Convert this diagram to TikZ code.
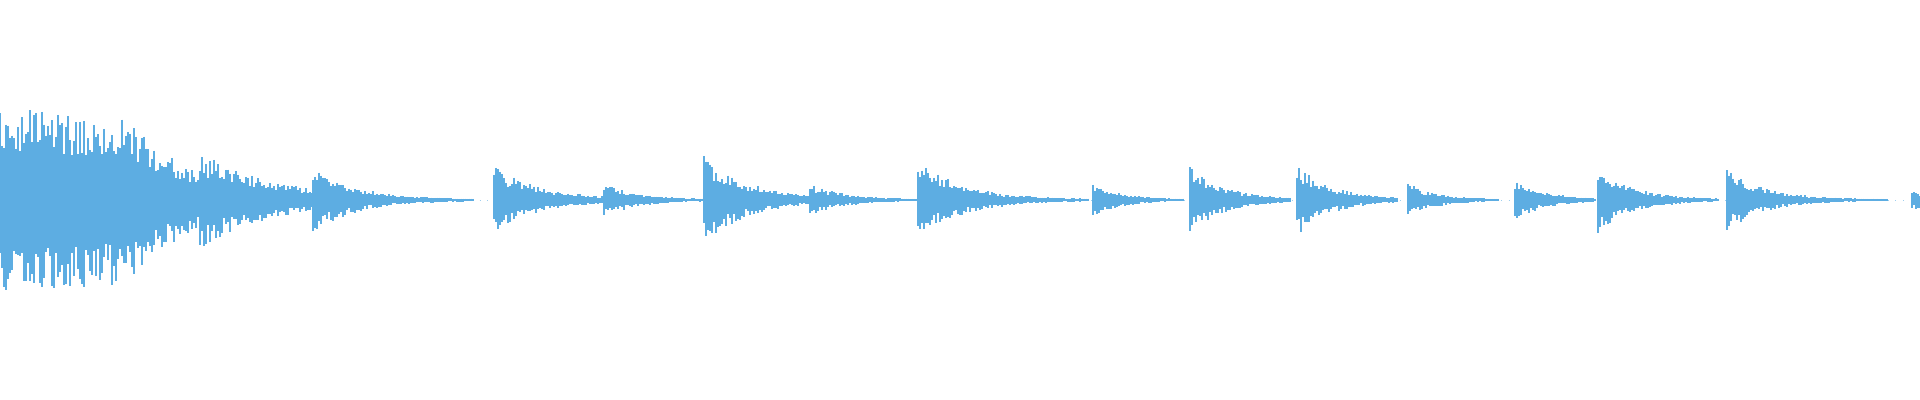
\documentclass[tikz,border=0pt]{standalone}
\usepackage{tikz}
\definecolor{wavecol}{RGB}{93,173,226}
\newcommand\burst[4]{%
  \foreach \i in {0,2,...,#2}{%
    \pgfmathsetmacro\up{#3*exp(-\i/#4)*(0.5+0.5*rnd)+0.5}%
    \pgfmathsetmacro\dn{#3*exp(-\i/#4)*(0.5+0.5*rnd)+0.5}%
    \draw[wave] (#1+\i,\up) -- (#1+\i,-\dn);}}
\begin{document}
\begin{tikzpicture}[x=0.01cm,y=0.01cm,
    wave/.style={draw=wavecol,line width=0.3pt}]
  \pgfmathsetseed{7}
  \useasboundingbox (0,-200) rectangle (1920,200);
  % baseline
  \draw[wavecol!60,line width=0.2pt,dotted] (0,0) -- (1920,0);
  % first block
  \burst{0}{130}{92}{1500}
  \burst{132}{68}{80}{65}
  % later hits
  \burst{200}{112}{48}{75}
  \burst{313}{160}{32}{45}
  \burst{494}{108}{35}{45}
  \burst{604}{100}{16}{35}
  \burst{704}{104}{44}{45}
  \burst{810}{106}{16}{35}
  \burst{918}{170}{40}{45}
  \burst{1093}{90}{16}{30}
  \burst{1190}{100}{34}{35}
  \burst{1297}{100}{35}{35}
  \burst{1408}{90}{16}{30}
  \burst{1515}{80}{20}{30}
  \burst{1598}{120}{34}{35}
  \burst{1727}{160}{30}{40}
  \burst{1912}{8}{10}{30}
\end{tikzpicture}
\end{document}
